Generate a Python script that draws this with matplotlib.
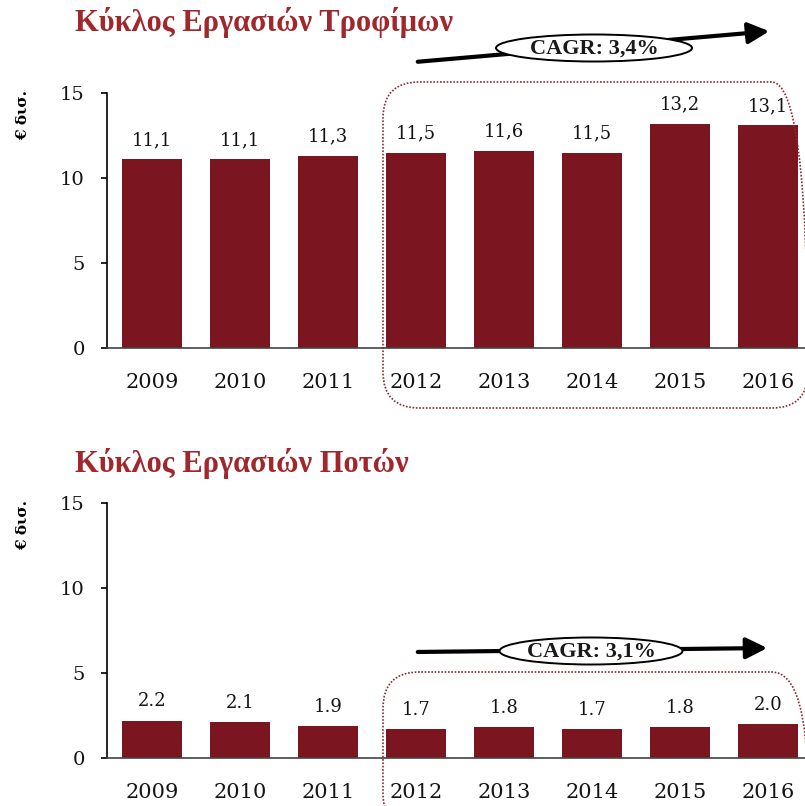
import matplotlib.pyplot as plt
from matplotlib.patches import FancyBboxPatch, Ellipse, FancyArrowPatch

# data
years = ['2009', '2010', '2011', '2012', '2013', '2014', '2015', '2016']
food = [11.1, 11.1, 11.3, 11.5, 11.6, 11.5, 13.2, 13.1]
food_labels = ['11,1', '11,1', '11,3', '11,5', '11,6', '11,5', '13,2', '13,1']
drinks = [2.2, 2.1, 1.9, 1.7, 1.8, 1.7, 1.8, 2.0]
drink_labels = ['2.2', '2.1', '1.9', '1.7', '1.8', '1.7', '1.8', '2.0']
titles = ['Κύκλος Εργασιών Τροφίμων', 'Κύκλος Εργασιών Ποτών']
cagr = ['CAGR: 3,4%', 'CAGR: 3,1%']

W, H = 805, 806
BAR = '#7b1520'
TITLE = '#a0282d'
TXT = '#141414'
NUM = ['DejaVu Serif']
plt.rcParams['font.family'] = ['Liberation Serif', 'DejaVu Serif']

fig = plt.figure(figsize=(W / 100, H / 100), dpi=100)


def px(x, y):
    return (x / W, 1 - y / H)


def draw_panel(top_px, values, labels):
    bottom_px = top_px + 255
    ax = fig.add_axes([107 / W, 1 - bottom_px / H, 698 / W, 255 / H])
    x = range(len(years))
    ax.bar(x, values, width=0.68, color=BAR, zorder=2)
    for i, v in enumerate(values):
        ax.text(i, v + 0.6, labels[i], ha='center', va='bottom',
                fontsize=13, color=TXT, family=NUM)
    ax.set_xlim(-0.51, 7.42)
    ax.set_ylim(0, 15)
    ax.set_yticks([0, 5, 10, 15])
    ax.set_xticks(list(x))
    ax.set_xticklabels(years)
    ax.tick_params(axis='x', length=0, pad=18, labelsize=15)
    ax.tick_params(axis='y', length=4.5, width=1.2, pad=11.5, labelsize=14)
    for s in ['top', 'right']:
        ax.spines[s].set_visible(False)
    ax.spines['left'].set_linewidth(1.2)
    ax.spines['bottom'].set_linewidth(1.2)
    ax.spines['bottom'].set_color('#444444')
    for lab in ax.get_xticklabels() + ax.get_yticklabels():
        lab.set_color(TXT)
        lab.set_family(NUM)
    fig.text(*px(23, top_px + 22), '€ δισ.', rotation=90, ha='center',
             va='center', fontsize=11, fontweight='bold', family=NUM)
    return ax


def draw_box(x0, y0, x1, y1):
    (fx0, fy1) = px(x0, y0)
    (fx1, fy0) = px(x1, y1)
    box = FancyBboxPatch((fx0, fy0), fx1 - fx0, fy1 - fy0,
                         boxstyle='round,pad=0,rounding_size=0.045',
                         transform=fig.transFigure, fill=False,
                         edgecolor='#8b2a30', linestyle=(0, (1, 1)),
                         linewidth=1.2, clip_on=False, zorder=5)
    fig.patches.append(box)


def draw_cagr(start, end, centre, width, text):
    arr = FancyArrowPatch(px(*start), px(*end), transform=fig.transFigure,
                          arrowstyle='-|>,head_length=8,head_width=4',
                          mutation_scale=1.6, color='black', linewidth=3,
                          zorder=6)
    fig.patches.append(arr)
    ell = Ellipse(px(*centre), width / W, 27 / H, transform=fig.transFigure,
                  facecolor='white', edgecolor='black', linewidth=1.4,
                  zorder=7)
    fig.patches.append(ell)
    fig.text(*px(centre[0], centre[1] + 1), text, ha='center', va='center',
             fontsize=16, fontweight='bold', color='#1a1a1a', zorder=8)


# top panel
draw_panel(93, food, food_labels)
fig.text(*px(75, 23), titles[0], ha='left', va='center', fontsize=22,
         fontweight='bold', color=TITLE)
draw_box(383, 82, 808, 408)
draw_cagr((415, 62), (772, 31), (594, 48), 196, cagr[0])

# bottom panel
draw_panel(503, drinks, drink_labels)
fig.text(*px(75, 463), titles[1], ha='left', va='center', fontsize=22,
         fontweight='bold', color=TITLE)
draw_box(383, 672, 808, 830)
draw_cagr((415, 652), (770, 648), (591, 651), 183, cagr[1])

fig.savefig('out.png', dpi=100)
